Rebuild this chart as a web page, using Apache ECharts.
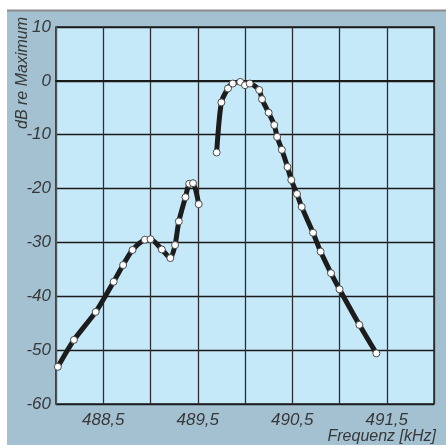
<!DOCTYPE html>
<html>
<head>
<meta charset="utf-8">
<script src="https://cdn.jsdelivr.net/npm/echarts@6/dist/echarts.min.js"></script>
<style>
html,body{margin:0;padding:0;background:#fff;}
#c{width:446px;height:445px;}
</style>
</head>
<body>
<div id="c"></div>
<script>
// Frequency (kHz) and level (dB re maximum), lower segment
const freqA = [488.02, 488.19, 488.42, 488.61, 488.71, 488.81, 488.94, 489.00, 489.12, 489.21, 489.26, 489.30, 489.37, 489.41, 489.45, 489.51];
const levelA = [-53.1, -48.1, -42.9, -37.3, -34.2, -31.4, -29.5, -29.4, -31.3, -32.9, -30.5, -26.1, -21.6, -19.1, -19.0, -22.9];
// main peak segment
const freqB = [489.70, 489.75, 489.82, 489.87, 489.95, 490.00, 490.05, 490.15, 490.18, 490.25, 490.31, 490.34, 490.39, 490.45, 490.49, 490.55, 490.60, 490.72, 490.80, 490.91, 491.00, 491.21, 491.39];
const levelB = [-13.3, -4.0, -1.4, -0.5, -0.2, -0.8, -0.5, -1.7, -3.4, -5.9, -8.2, -10.4, -12.8, -16.0, -18.4, -21.0, -23.4, -28.2, -31.7, -35.7, -38.7, -45.3, -50.6];
const xTickLabels = ['488,5', '489,5', '490,5', '491,5'];
const yTicks = [10, 0, -10, -20, -30, -40, -50, -60];
const yTitle = 'dB re Maximum';
const xTitle = 'Frequenz [kHz]';

const pairs = (xs, ys) => xs.map((x, i) => [x, ys[i]]);
const font = 'Liberation Sans';
const txtColor = '#383838';

const chart = echarts.init(document.getElementById('c'), null, {renderer: 'canvas'});
const lineSeries = (data) => ({
  type: 'line',
  data: data,
  smooth: 0.25,
  symbol: 'circle',
  symbolSize: 7,
  showSymbol: true,
  lineStyle: {color: '#1c1c1c', width: 5},
  itemStyle: {color: '#ffffff', borderColor: '#4a4a4a', borderWidth: 1},
  z: 5,
  animation: false
});

chart.setOption({
  animation: false,
  graphic: [
    {type: 'rect', shape: {x: 7, y: 10, width: 439, height: 435}, style: {fill: '#a3c1d1'}, z: -10, silent: true},
    {type: 'line', shape: {x1: 7, y1: 10.5, x2: 446, y2: 10.5}, style: {stroke: '#8c8c8c', lineWidth: 2}, z: -9, silent: true},
    {type: 'text', x: 23, y: 73, rotation: Math.PI / 2, style: {text: yTitle, font: 'italic 16px "' + font + '"', fill: txtColor, textAlign: 'center', textVerticalAlign: 'middle'}, z: 10},
    {type: 'text', x: 436, y: 437, style: {text: xTitle, font: 'italic 16px "' + font + '"', fill: txtColor, textAlign: 'right', textVerticalAlign: 'middle'}, z: 10}
  ],
  grid: {left: 56, top: 27, right: 12, bottom: 41, show: true, backgroundColor: '#c6e9f9', borderColor: '#222', borderWidth: 1.5},
  xAxis: {
    type: 'value', min: 488, max: 492, interval: 0.5,
    axisLine: {show: true, lineStyle: {color: '#1a1a1a', width: 2}},
    axisTick: {show: false},
    splitLine: {show: true, lineStyle: {color: '#2e2e2e', width: 1.3}},
    axisLabel: {
      margin: 8, color: txtColor, fontFamily: font, fontStyle: 'italic', fontSize: 17,
      formatter: (v) => {
        const s = v.toFixed(1).replace('.', ',');
        return xTickLabels.indexOf(s) >= 0 ? s : '';
      }
    }
  },
  yAxis: {
    type: 'value', min: -60, max: 10, interval: 10,
    axisLine: {show: true, lineStyle: {color: '#555', width: 1}},
    axisTick: {show: false},
    splitLine: {show: true, lineStyle: {color: '#1a1a1a', width: 1.3}},
    axisLabel: {
      margin: 5, color: txtColor, fontFamily: font, fontStyle: 'italic', fontSize: 17,
      formatter: (v) => yTicks.indexOf(v) >= 0 ? String(v) : ''
    }
  },
  series: [lineSeries(pairs(freqA, levelA)), lineSeries(pairs(freqB, levelB))]
});
</script>
</body>
</html>
